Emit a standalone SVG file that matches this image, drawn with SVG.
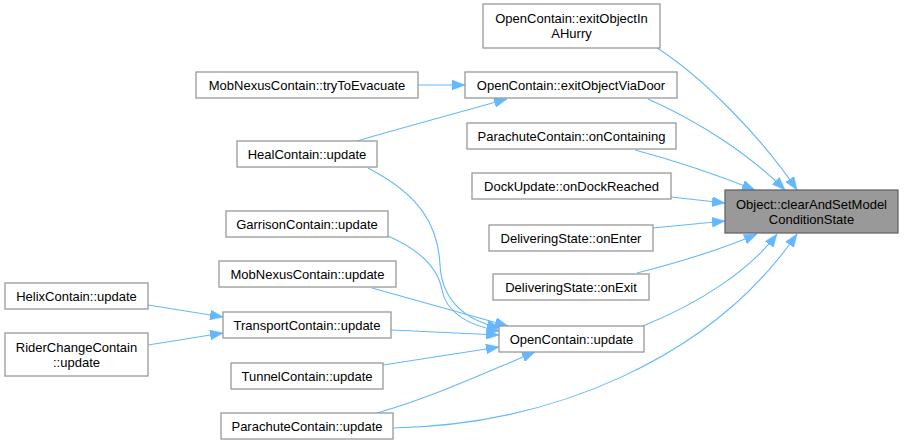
<svg xmlns="http://www.w3.org/2000/svg" width="904" height="445" viewBox="0 0 904 445">
<style>
.n rect{fill:#ffffff;stroke:#999999;stroke-width:1.3}
.n.sel rect{fill:#999999;stroke:#666666}
.n text{font-family:"Liberation Sans",Arial,sans-serif;font-size:13px;fill:#000;text-anchor:middle}
.e path{fill:none;stroke:#63b8ff;stroke-width:1.1;marker-end:url(#ah)}
</style>
<defs>
<marker id="ah" markerUnits="userSpaceOnUse" markerWidth="13" markerHeight="10" viewBox="0 0 13 10" refX="13" refY="5" orient="auto">
<path d="M0,0 L13,5 L0,10 z" fill="#63b8ff" stroke="#63b8ff" stroke-width="0.5"/>
</marker>
</defs>
<rect width="904" height="445" fill="#ffffff"/>
<g class="e" id="edges">
<path d="M418,85 L465,85"/>
<path d="M357,141 C390,131 460,112 507,99"/>
<path d="M368,168 C420,195 438,225 440,265 C442,300 465,320 500,328"/>
<path d="M388,236 C420,250 438,268 442,290 C446,312 468,326 500,331"/>
<path d="M372,288 L508,326"/>
<path d="M391,330 L499,335"/>
<path d="M383,365 L499,347"/>
<path d="M377,413 C430,398 480,375 535,352"/>
<path d="M393,428 C550,425 710,360 797,234"/>
<path d="M643,326 C700,303 750,270 777,234"/>
<path d="M637,273 C680,262 720,250 757,234"/>
<path d="M653,228 L725,221"/>
<path d="M671,197 L725,203"/>
<path d="M635,150 C680,162 720,176 755,190"/>
<path d="M648,99 C700,122 750,155 785,190"/>
<path d="M657,48 C700,75 760,135 797,190"/>
<path d="M148,305 L223,317"/>
<path d="M148,345 L223,333"/>
</g>
<g class="n" id="n_hurry"><rect x="483" y="4" width="177" height="44"/><text x="571.5" y="23">OpenContain::exitObjectIn</text><text x="571.5" y="38">AHurry</text></g>
<g class="n" id="n_viadoor"><rect x="465" y="72" width="212" height="26"/><text x="571" y="89.5">OpenContain::exitObjectViaDoor</text></g>
<g class="n" id="n_evacuate"><rect x="196" y="72" width="222" height="26"/><text x="307" y="89.5">MobNexusContain::tryToEvacuate</text></g>
<g class="n" id="n_oncontaining"><rect x="467" y="123" width="209" height="26"/><text x="571.5" y="140.5">ParachuteContain::onContaining</text></g>
<g class="n" id="n_heal"><rect x="237" y="141" width="140" height="26"/><text x="307" y="158.5">HealContain::update</text></g>
<g class="n" id="n_dock"><rect x="472" y="173" width="199" height="26"/><text x="571.5" y="190.5">DockUpdate::onDockReached</text></g>
<g class="n sel" id="n_target"><rect x="725" y="190" width="173" height="43"/><text x="811.5" y="208.5">Object::clearAndSetModel</text><text x="811.5" y="223.5">ConditionState</text></g>
<g class="n" id="n_onenter"><rect x="489" y="225" width="164" height="26"/><text x="571" y="242.5">DeliveringState::onEnter</text></g>
<g class="n" id="n_garrison"><rect x="226" y="211" width="162" height="26"/><text x="307" y="228.5">GarrisonContain::update</text></g>
<g class="n" id="n_mobupdate"><rect x="219" y="261" width="177" height="26"/><text x="307.5" y="278.5">MobNexusContain::update</text></g>
<g class="n" id="n_onexit"><rect x="493" y="274" width="156" height="26"/><text x="571" y="291.5">DeliveringState::onExit</text></g>
<g class="n" id="n_helix"><rect x="5" y="283" width="143" height="26"/><text x="76.5" y="300.5">HelixContain::update</text></g>
<g class="n" id="n_transport"><rect x="223" y="312" width="168" height="26"/><text x="307" y="329.5">TransportContain::update</text></g>
<g class="n" id="n_rider"><rect x="5" y="333" width="143" height="43"/><text x="76.5" y="351.5">RiderChangeContain</text><text x="76.5" y="366.5">::update</text></g>
<g class="n" id="n_openupdate"><rect x="499" y="326" width="145" height="26"/><text x="571.5" y="343.5">OpenContain::update</text></g>
<g class="n" id="n_tunnel"><rect x="231" y="363" width="152" height="26"/><text x="307" y="380.5">TunnelContain::update</text></g>
<g class="n" id="n_paraupdate"><rect x="221" y="413" width="172" height="26"/><text x="307" y="430.5">ParachuteContain::update</text></g>
</svg>
